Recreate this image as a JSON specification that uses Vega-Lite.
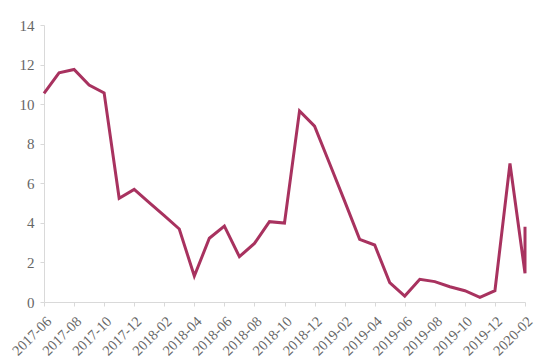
{
  "$schema": "https://vega.github.io/schema/vega-lite/v6.json",
  "autosize": "none",
  "width": 481,
  "height": 277,
  "padding": {"left": 44, "top": 25, "right": 25, "bottom": 62},
  "background": "white",
  "config": {"view": {"stroke": null}},
  "data": {"values": [
    {"i": 1, "month": "2017-06", "value": 10.54},
    {"i": 2, "month": "2017-07", "value": 11.58},
    {"i": 3, "month": "2017-08", "value": 11.75},
    {"i": 4, "month": "2017-09", "value": 10.96},
    {"i": 5, "month": "2017-10", "value": 10.57},
    {"i": 6, "month": "2017-11", "value": 5.24},
    {"i": 7, "month": "2017-12", "value": 5.69},
    {"i": 8, "month": "2018-01", "value": 5.02},
    {"i": 9, "month": "2018-02", "value": 4.36},
    {"i": 10, "month": "2018-03", "value": 3.69},
    {"i": 11, "month": "2018-04", "value": 1.31},
    {"i": 12, "month": "2018-05", "value": 3.22},
    {"i": 13, "month": "2018-06", "value": 3.84},
    {"i": 14, "month": "2018-07", "value": 2.29},
    {"i": 15, "month": "2018-08", "value": 2.96},
    {"i": 16, "month": "2018-09", "value": 4.06},
    {"i": 17, "month": "2018-10", "value": 3.99},
    {"i": 18, "month": "2018-11", "value": 9.66},
    {"i": 19, "month": "2018-12", "value": 8.89},
    {"i": 20, "month": "2019-01", "value": 7.0},
    {"i": 21, "month": "2019-02", "value": 5.1},
    {"i": 22, "month": "2019-03", "value": 3.17},
    {"i": 23, "month": "2019-04", "value": 2.88},
    {"i": 24, "month": "2019-05", "value": 0.98},
    {"i": 25, "month": "2019-06", "value": 0.3},
    {"i": 26, "month": "2019-07", "value": 1.15},
    {"i": 27, "month": "2019-08", "value": 1.03},
    {"i": 28, "month": "2019-09", "value": 0.77},
    {"i": 29, "month": "2019-10", "value": 0.57},
    {"i": 30, "month": "2019-11", "value": 0.24},
    {"i": 31, "month": "2019-12", "value": 0.57},
    {"i": 32, "month": "2020-01", "value": 7.0},
    {"i": 33, "month": "2020-02", "value": 1.45},
    {"i": 34, "month": "2020-02", "value": 3.8}
  ]},
  "mark": {"type": "line", "color": "#A8325F", "strokeWidth": 3, "strokeJoin": "miter"},
  "encoding": {
    "x": {
      "field": "month", "type": "ordinal",
      "scale": {"type": "point", "padding": 0},
      "axis": {
        "title": null,
        "values": ["2017-06","2017-08","2017-10","2017-12","2018-02","2018-04","2018-06","2018-08","2018-10","2018-12","2019-02","2019-04","2019-06","2019-08","2019-10","2019-12","2020-02"],
        "labelAngle": -45,
        "labelAlign": "right",
        "labelBaseline": "top",
        "labelFont": "Liberation Serif",
        "labelFontSize": 14.5,
        "labelColor": "#666666",
        "labelPadding": 8,
        "labelOverlap": false,
        "domainColor": "#D9D9D9",
        "tickColor": "#D9D9D9",
        "tickSize": 4,
        "grid": false
      }
    },
    "y": {
      "field": "value", "type": "quantitative",
      "scale": {"domain": [0, 14], "nice": false},
      "axis": {
        "title": null,
        "values": [0, 2, 4, 6, 8, 10, 12, 14],
        "labelFont": "Liberation Serif",
        "labelFontSize": 15,
        "labelColor": "#666666",
        "labelPadding": 6,
        "domainColor": "#D9D9D9",
        "tickColor": "#D9D9D9",
        "tickSize": 4,
        "grid": false
      }
    },
    "order": {"field": "i", "type": "quantitative"}
  }
}
